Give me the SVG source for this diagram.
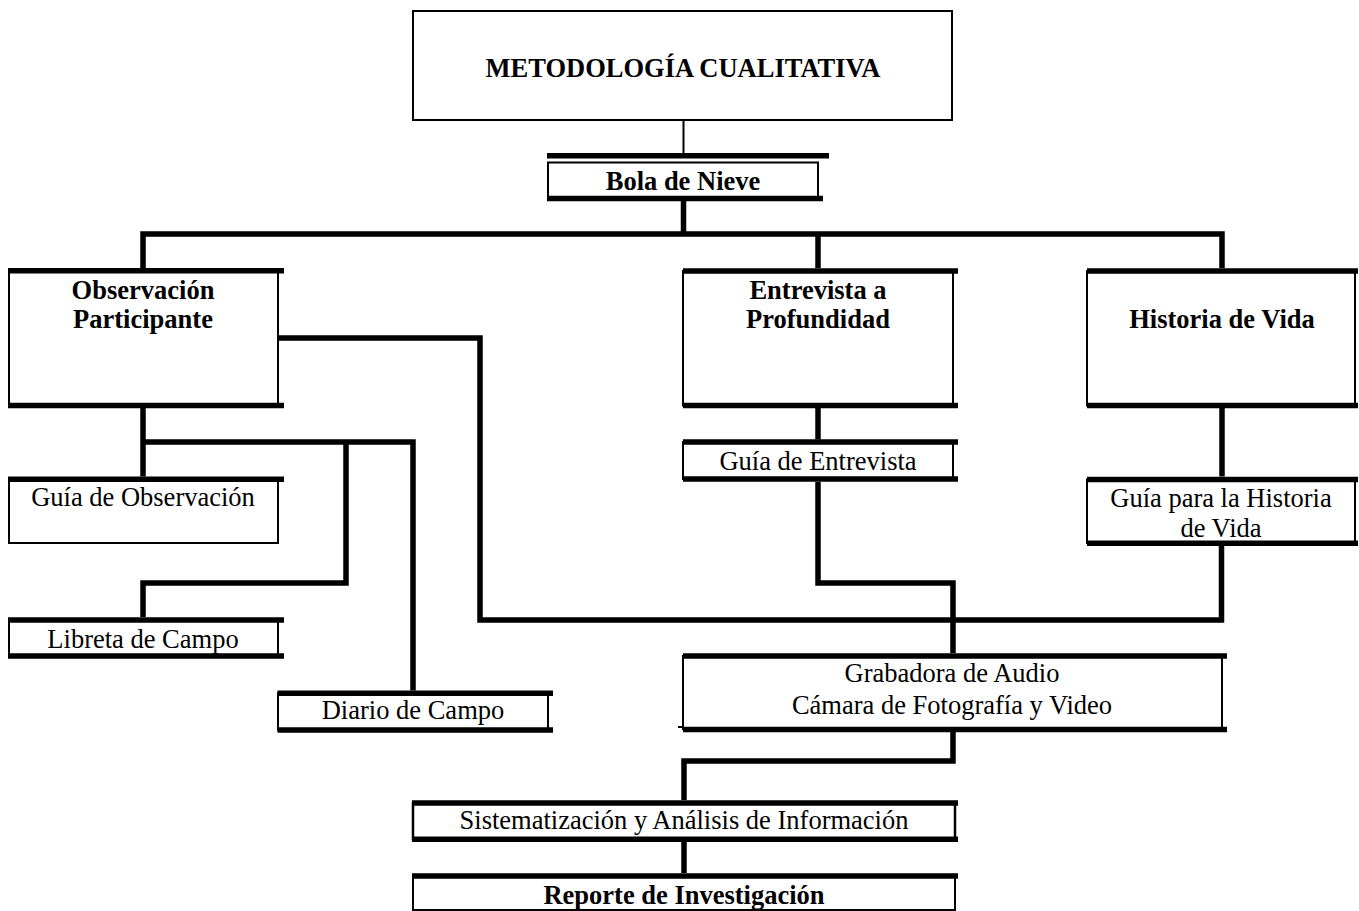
<svg xmlns="http://www.w3.org/2000/svg" width="1359" height="911" viewBox="0 0 1359 911">
<style>
  .thin{fill:none;stroke:#000;stroke-width:2}
  .thick{fill:none;stroke:#000;stroke-width:5.5}
  .conn{fill:none;stroke:#000;stroke-width:5.5;stroke-linejoin:miter;stroke-linecap:butt}
  .t{font-family:"Liberation Serif","Times New Roman",serif;font-size:26.5px;fill:#000;text-anchor:middle}
  .b{font-weight:bold}
</style>
<rect width="1359" height="911" fill="#fff"/>
<g id="connectors">
  <path d="M683.5 121 V153" fill="none" stroke="#000" stroke-width="2"/>
  <path class="conn" d="M683.5 200 V234"/>
  <path class="conn" d="M143 268 V234 H1222 V268"/>
  <path class="conn" d="M818 234 V268"/>
  <path class="conn" d="M278 338 H480 V620 H1221.5 V546"/>
  <path class="conn" d="M143 408 V476.5"/>
  <path class="conn" d="M143 442 H413 V690.5"/>
  <path class="conn" d="M346 442 V583 H143 V617"/>
  <path class="conn" d="M818 408 V439.5"/>
  <path class="conn" d="M818 482 V583 H953 V653"/>
  <path class="conn" d="M1222 408 V476.5"/>
  <path class="conn" d="M953 732 V761 H684 V800"/>
  <path class="conn" d="M684 842 V873"/>
</g>
<g id="metodologia">
  <rect class="thin" x="413" y="11" width="539" height="109"/>
  <text class="t b" x="683" y="77">METODOLOGÍA CUALITATIVA</text>
</g>
<g id="bola">
  <line class="thick" x1="547" y1="155.7" x2="829" y2="155.7"/>
  <rect class="thin" x="548" y="162.5" width="270" height="35.5"/>
  <line class="thick" x1="547" y1="198.5" x2="823" y2="198.5"/>
  <text class="t b" x="683" y="190">Bola de Nieve</text>
</g>
<g id="observacion">
  <rect class="thin" x="9" y="271" width="269" height="134.5"/>
  <line class="thick" x1="8" y1="270.7" x2="284" y2="270.7"/>
  <line class="thick" x1="8" y1="405.5" x2="284" y2="405.5"/>
  <text class="t b" x="143" y="299">Observación</text>
  <text class="t b" x="143" y="328">Participante</text>
</g>
<g id="entrevista">
  <rect class="thin" x="683" y="271" width="270" height="134.5"/>
  <line class="thick" x1="683" y1="271" x2="958" y2="271"/>
  <line class="thick" x1="683" y1="405.5" x2="958" y2="405.5"/>
  <text class="t b" x="818" y="299.3">Entrevista a</text>
  <text class="t b" x="818" y="328.3">Profundidad</text>
</g>
<g id="historia">
  <rect class="thin" x="1087" y="271" width="268" height="134.5"/>
  <line class="thick" x1="1087" y1="271" x2="1358" y2="271"/>
  <line class="thick" x1="1087" y1="405.5" x2="1358" y2="405.5"/>
  <text class="t b" x="1222" y="328.3">Historia de Vida</text>
</g>
<g id="guia-observacion">
  <rect class="thin" x="9" y="479.3" width="269" height="63.7"/>
  <line class="thick" x1="8" y1="479.3" x2="284" y2="479.3"/>
  <text class="t" x="143" y="506">Guía de Observación</text>
</g>
<g id="guia-entrevista">
  <rect class="thin" x="683" y="442" width="270" height="37"/>
  <line class="thick" x1="683" y1="442" x2="958" y2="442"/>
  <line class="thick" x1="683" y1="479" x2="958" y2="479"/>
  <text class="t" x="818" y="470">Guía de Entrevista</text>
</g>
<g id="guia-historia">
  <rect class="thin" x="1087" y="479.5" width="268" height="63.5"/>
  <line class="thick" x1="1087" y1="479.5" x2="1358" y2="479.5"/>
  <line class="thick" x1="1087" y1="543.3" x2="1358" y2="543.3"/>
  <text class="t" x="1221" y="506.7">Guía para la Historia</text>
  <text class="t" x="1221" y="536.5">de Vida</text>
</g>
<g id="libreta">
  <rect class="thin" x="9" y="620" width="269" height="36"/>
  <line class="thick" x1="8" y1="620" x2="284" y2="620"/>
  <line class="thick" x1="8" y1="656" x2="284" y2="656"/>
  <text class="t" x="143" y="648">Libreta de Campo</text>
</g>
<g id="diario">
  <rect class="thin" x="278" y="693.3" width="270" height="36.7"/>
  <line class="thick" x1="277.5" y1="693.3" x2="553" y2="693.3"/>
  <line class="thick" x1="277.5" y1="730" x2="553" y2="730"/>
  <text class="t" x="413" y="719">Diario de Campo</text>
</g>
<g id="grabadora">
  <rect class="thin" x="683" y="656" width="539" height="73"/>
  <line class="thick" x1="683" y1="656" x2="1227" y2="656"/>
  <line class="thick" x1="683" y1="729.5" x2="1227" y2="729.5"/>
  <line x1="678" y1="727" x2="683" y2="727" stroke="#000" stroke-width="2"/>
  <text class="t" x="952" y="681.7">Grabadora de Audio</text>
  <text class="t" x="952" y="714">Cámara de Fotografía y Video</text>
</g>
<g id="sistematizacion">
  <rect class="thin" x="413" y="803" width="542" height="36" style="stroke-width:2.5"/>
  <line class="thick" x1="412" y1="803" x2="958" y2="803"/>
  <line class="thick" x1="412" y1="839.3" x2="958" y2="839.3"/>
  <text class="t" x="684" y="829">Sistematización y Análisis de Información</text>
</g>
<g id="reporte">
  <rect class="thin" x="413" y="876" width="542" height="34"/>
  <line class="thick" x1="412" y1="876" x2="958" y2="876"/>
  <text class="t b" x="684" y="904">Reporte de Investigación</text>
</g>
</svg>
